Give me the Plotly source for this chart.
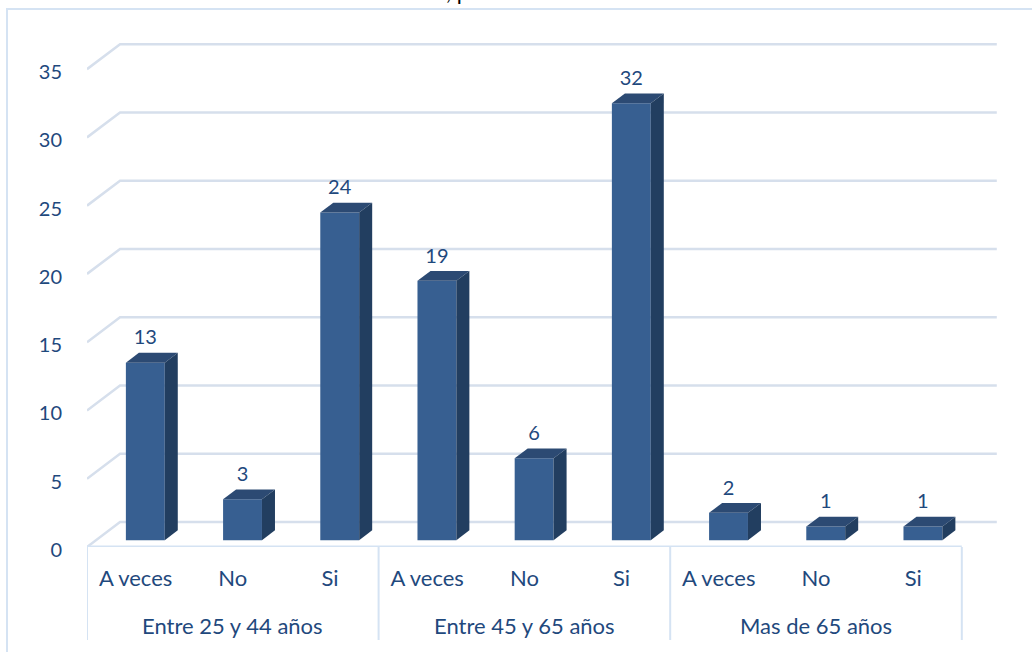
"""Grouped 3D-look column chart: answers by age band."""

import plotly.graph_objects as go

GROUPS = ["Entre 25 y 44 años", "Entre 45 y 65 años", "Mas de 65 años"]
ANSWERS = ["A veces", "No", "Si"] * 3
VALUES = [13, 3, 24, 19, 6, 32, 2, 1, 1]
Y_TICKS = [0, 5, 10, 15, 20, 25, 30, 35]

FRONT = "#375F91"
TOP = "#2C4A73"
SIDE = "#223E60"
TEXT = "#1F497D"
GRID = "#D6DFEC"
FRAME = "#D5E3F3"
FONT = "Lato, Carlito, Calibri, sans-serif"

# fake perspective, in axis units
FLOOR_DX, FLOOR_DY = 0.34, 1.83
BAR_DX, BAR_DY = 0.134, 0.72
BAR_X, BAR_BASE = 0.10, 0.5
BAR_W = 0.4
X_END = 8.52

# plot area in page pixels, for things placed outside of it
PLOT_L, PLOT_T, PLOT_W, PLOT_H = 87, 20, 913, 527


def paper_x(px):
    return (px - PLOT_L) / PLOT_W


def paper_y(py):
    return (PLOT_T + PLOT_H - py) / PLOT_H


xs = [i + BAR_X for i in range(len(VALUES))]

fig = go.Figure()

# back wall and floor lines
for tick in Y_TICKS:
    path = (
        f"M -0.5 {tick} L {-0.5 + FLOOR_DX} {tick + FLOOR_DY} "
        f"L {X_END + FLOOR_DX} {tick + FLOOR_DY}"
    )
    fig.add_shape(type="path", path=path, layer="below", line=dict(color=GRID, width=2.5))
fig.add_shape(type="line", x0=-0.5, x1=8.5, y0=0, y1=0, layer="below", line=dict(color=FRAME, width=3))

fig.add_trace(
    go.Bar(
        x=xs,
        y=VALUES,
        base=BAR_BASE,
        width=BAR_W,
        marker=dict(color=FRONT, line=dict(width=0)),
        showlegend=False,
        hoverinfo="skip",
    )
)

# top and side faces of each column
for x, value in zip(xs, VALUES):
    left, right = x - BAR_W / 2, x + BAR_W / 2
    low, high = BAR_BASE, BAR_BASE + value
    fig.add_trace(
        go.Scatter(
            x=[left, left + BAR_DX, right + BAR_DX, right, left],
            y=[high, high + BAR_DY, high + BAR_DY, high, high],
            mode="lines",
            fill="toself",
            fillcolor=TOP,
            line=dict(width=0),
            showlegend=False,
            hoverinfo="skip",
        )
    )
    fig.add_trace(
        go.Scatter(
            x=[right, right + BAR_DX, right + BAR_DX, right, right],
            y=[low, low + BAR_DY, high + BAR_DY, high, low],
            mode="lines",
            fill="toself",
            fillcolor=SIDE,
            line=dict(width=0),
            showlegend=False,
            hoverinfo="skip",
        )
    )

fig.add_trace(
    go.Scatter(
        x=xs,
        y=[BAR_BASE + v + BAR_DY + 0.25 for v in VALUES],
        mode="text",
        text=VALUES,
        textposition="top center",
        textfont=dict(color=TEXT, size=20, family=FONT),
        showlegend=False,
        hoverinfo="skip",
    )
)

# group labels and the dividers under the axis
for i, group in enumerate(GROUPS):
    fig.add_annotation(
        text=group,
        x=3 * i + 1,
        y=paper_y(625),
        xref="x",
        yref="paper",
        yanchor="middle",
        showarrow=False,
        font=dict(color=TEXT, size=22, family=FONT),
    )
for x in (-0.5, 2.5, 5.5, 8.5):
    fig.add_shape(
        type="line", x0=x, x1=x, y0=0, y1=paper_y(640),
        xref="x", yref="paper", line=dict(color=FRAME, width=2),
    )

# chart frame, runs off the right and bottom of the picture
fig.add_shape(
    type="line", x0=paper_x(7), x1=paper_x(7), y0=paper_y(9), y1=paper_y(652),
    xref="paper", yref="paper", line=dict(color=FRAME, width=2),
)
fig.add_shape(
    type="line", x0=paper_x(6), x1=paper_x(1032), y0=paper_y(9), y1=paper_y(9),
    xref="paper", yref="paper", line=dict(color=FRAME, width=2),
)

# title is cut off by the top edge in the source picture
fig.add_annotation(
    text=", p",
    x=paper_x(457),
    y=1,
    xref="paper",
    yref="paper",
    yanchor="middle",
    yshift=29,
    showarrow=False,
    font=dict(color="black", size=22, family=FONT),
)

fig.update_layout(
    width=1032,
    height=652,
    paper_bgcolor="white",
    plot_bgcolor="rgba(0,0,0,0)",
    margin=dict(l=PLOT_L, r=1032 - PLOT_L - PLOT_W, t=PLOT_T, b=652 - PLOT_T - PLOT_H),
    font=dict(color=TEXT, size=20, family=FONT),
)
fig.update_xaxes(
    range=[-0.5, 8.893],
    tickmode="array",
    tickvals=list(range(len(ANSWERS))),
    ticktext=ANSWERS,
    tickfont=dict(size=22),
    ticks="outside",
    ticklen=12,
    tickcolor="rgba(0,0,0,0)",
    showgrid=False,
    zeroline=False,
    showline=False,
)
fig.update_yaxes(
    range=[0, 38.6],
    tickmode="array",
    tickvals=Y_TICKS,
    ticks="outside",
    ticklen=20,
    ticklabelshift=3,
    tickcolor="rgba(0,0,0,0)",
    showgrid=False,
    zeroline=False,
    showline=False,
)

fig.write_html(
    "out.html",
    config=dict(displayModeBar=False),
    post_script="document.body.style.margin = '0';",
)
